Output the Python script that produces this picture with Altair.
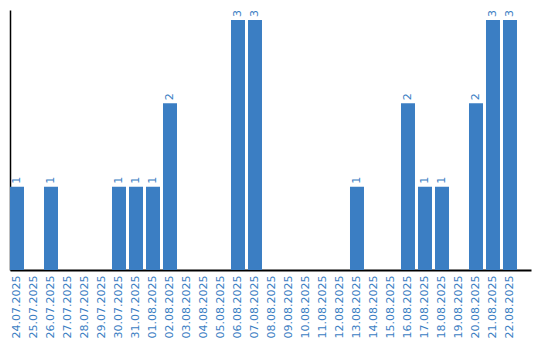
import altair as alt
import pandas as pd

dates = ["24.07.2025","25.07.2025","26.07.2025","27.07.2025","28.07.2025","29.07.2025",
         "30.07.2025","31.07.2025","01.08.2025","02.08.2025","03.08.2025","04.08.2025",
         "05.08.2025","06.08.2025","07.08.2025","08.08.2025","09.08.2025","10.08.2025",
         "11.08.2025","12.08.2025","13.08.2025","14.08.2025","15.08.2025","16.08.2025",
         "17.08.2025","18.08.2025","19.08.2025","20.08.2025","21.08.2025","22.08.2025"]
values = [1,0,1,0,0,0,1,1,1,2,0,0,0,3,3,0,0,0,0,0,1,0,0,2,1,1,0,2,3,3]

df = pd.DataFrame({"date": dates, "value": values})
df["label"] = df["value"].apply(lambda v: str(v) if v > 0 else "")

blue = "#3b7ec3"

x = alt.X("date:N", sort=dates, title=None,
          scale=alt.Scale(paddingInner=0.1765, paddingOuter=0.412, align=0),
          axis=alt.Axis(labelAngle=-90, labelColor=blue, labelFontSize=11,
                        labelFont="DejaVu Sans", ticks=False, labelPadding=5,
                        domainColor="black", domainWidth=2, labelAlign="right",
                        labelBaseline="middle"))
y = alt.Y("value:Q", title=None, scale=alt.Scale(domain=[0, 3.12], nice=False),
          axis=alt.Axis(labels=False, ticks=False, grid=False, domainColor="black",
                        domainWidth=1.5))

base = alt.Chart(df).encode(x=x, y=y)
bars = base.mark_bar(color=blue)
text = base.mark_text(angle=270, align="left", baseline="middle", dx=3,
                      color=blue, fontSize=11, font="DejaVu Sans").encode(text="label:N")

chart = (bars + text).properties(
    width=521, height=260,
    autosize=alt.AutoSizeParams(type="none"),
    padding={"left": 10, "top": 10, "right": 9, "bottom": 70},
    background="white",
).configure_view(stroke=None)

chart.save("out.html", embed_options={"renderer": "svg", "actions": False})
